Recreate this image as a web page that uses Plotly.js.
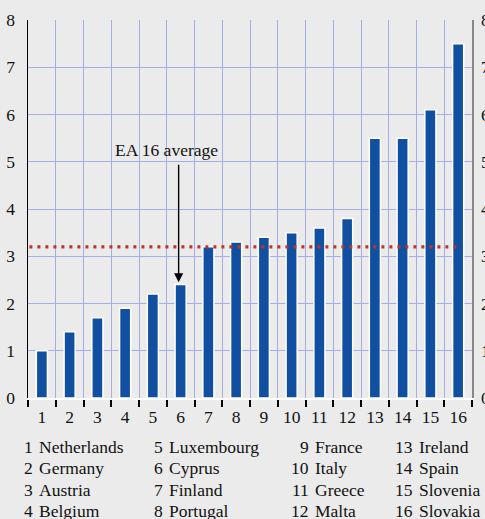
<!DOCTYPE html>
<html><head><meta charset="utf-8">
<script src="https://cdn.plot.ly/plotly-3.0.1.min.js"></script>
<style>html,body{margin:0;padding:0;background:#ebebeb;}#chart{width:485px;height:519px;}</style>
</head><body><div id="chart"></div>
<script>
const categories = ['1','2','3','4','5','6','7','8','9','10','11','12','13','14','15','16'];
const countries = ['Netherlands','Germany','Austria','Belgium','Luxembourg','Cyprus','Finland','Portugal','France','Italy','Greece','Malta','Ireland','Spain','Slovenia','Slovakia'];
const values = [1.0, 1.4, 1.7, 1.9, 2.2, 2.4, 3.2, 3.3, 3.4, 3.5, 3.6, 3.8, 5.5, 5.5, 6.1, 7.5];
const eaAverage = 3.2;
const yTicks = [0,1,2,3,4,5,6,7,8];

const FONT = 'Liberation Serif';
const TXT = '#111111';
const W = 485, ML = 28, MR = 13;
const plotW = W - ML - MR;
const px2paper = p => (p - ML) / plotW;

const traces = [
  {type:'bar', x:categories, y:values, width:0.4,
   marker:{color:'#114fa1', line:{color:'#ffffff', width:1.5}},
   hoverinfo:'skip', showlegend:false},
  {type:'scatter', mode:'markers', x:categories, y:values, yaxis:'y2',
   marker:{opacity:0}, hoverinfo:'skip', showlegend:false}
];

const colNumRight = [34, 164, 310, 413.5];
const colNameLeft = [37.5, 167.5, 314, 417.5];
const rowY = [446.7, 468.3, 490, 510.7];
const annotations = [];
const H = 519, MT = 20, MB = 121, plotH = H - MT - MB;
const py2paper = p => (H - MB - p) / plotH;
categories.forEach((c, i) => {
  const col = Math.floor(i / 4), row = i % 4;
  annotations.push({xref:'paper', yref:'paper', x:px2paper(colNumRight[col]), y:py2paper(rowY[row]),
    xanchor:'right', yanchor:'middle', text:c, showarrow:false, borderpad:0,
    font:{family:FONT, size:17.5, color:TXT}});
  annotations.push({xref:'paper', yref:'paper', x:px2paper(colNameLeft[col]), y:py2paper(rowY[row]),
    xanchor:'left', yanchor:'middle', text:countries[i], showarrow:false, borderpad:0,
    font:{family:FONT, size:17.5, color:TXT}});
});
const idx6 = categories.indexOf('6');
annotations.push({xref:'x', yref:'y', x:idx6, y:values[idx6] + 0.05, xshift:-2,
  ax:0, ay:-119, showarrow:true, arrowhead:2, arrowsize:1.3, arrowwidth:1.4, arrowcolor:'#000', text:''});
annotations.push({xref:'x', yref:'y', x:idx6, y:5.25, xshift:-14, text:'EA 16 average',
  showarrow:false, yanchor:'middle', font:{family:FONT, size:17.5, color:TXT}});

const layout = {
  width:485, height:519,
  margin:{l:ML, r:MR, t:MT, b:MB, pad:0},
  paper_bgcolor:'#ebebeb', plot_bgcolor:'#ebebeb',
  font:{family:FONT, size:17.5, color:TXT},
  xaxis:{type:'category', range:[-0.5, categories.length - 0.5], tickson:'boundaries', tickangle:0,
    showgrid:true, gridcolor:'#a3ade6', gridwidth:1,
    ticks:'outside', ticklen:7, tickwidth:2, tickcolor:'#000', ticklabelstandoff:2,
    showline:true, linecolor:'#ffffff', linewidth:2, zeroline:false,
    tickfont:{family:FONT, size:17.5, color:TXT}, fixedrange:true},
  yaxis:{range:[0,8], tickvals:yTicks, showgrid:true, gridcolor:'#a3ade6', gridwidth:1,
    showline:true, linecolor:'#000', linewidth:1.5, ticks:'', zeroline:false,
    ticklabelstandoff:8, tickfont:{family:FONT, size:17.5, color:TXT}},
  yaxis2:{range:[0,8], tickvals:yTicks, overlaying:'y', side:'right', showgrid:false,
    showline:true, linecolor:'#888', linewidth:1.5, ticks:'', zeroline:false,
    ticklabelstandoff:4, tickfont:{family:FONT, size:17.5, color:TXT}},
  shapes:[{type:'line', xref:'x', yref:'y', x0:-0.45, x1:categories.length - 1, y0:eaAverage, y1:eaAverage,
    line:{color:'#b8392b', width:3.2, dash:'3px,5px'}}],
  annotations:annotations,
  showlegend:false
};
Plotly.newPlot('chart', traces, layout, {staticPlot:true, displayModeBar:false});
</script></body></html>
